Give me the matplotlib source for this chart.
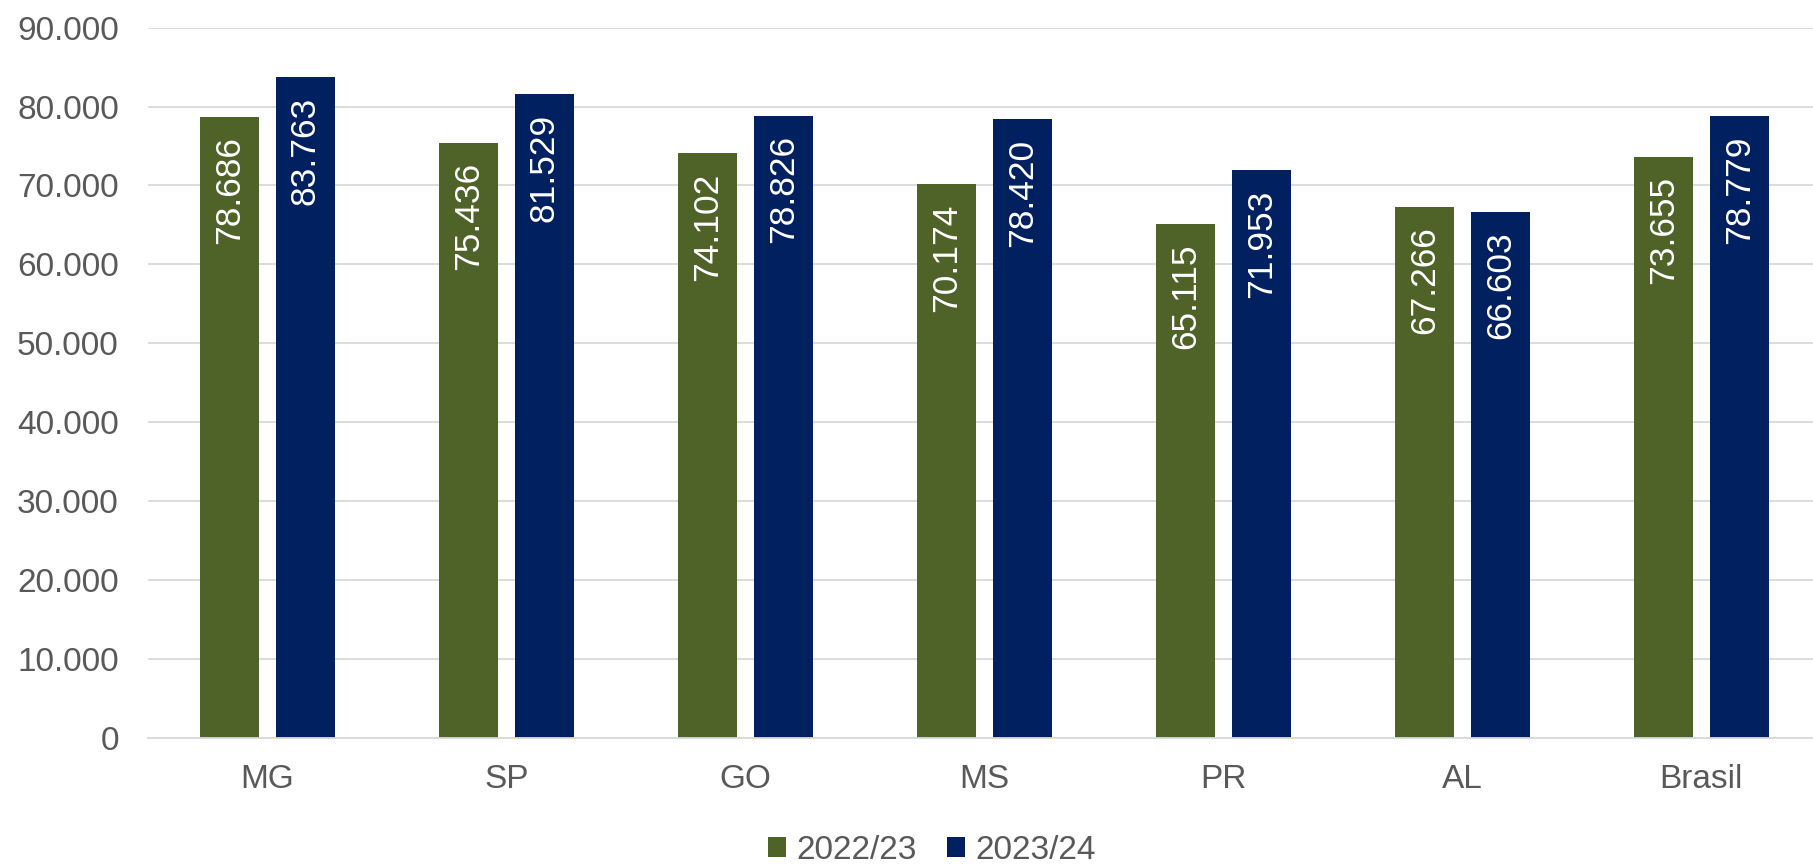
import matplotlib.pyplot as plt
import numpy as np

estados = ["MG", "SP", "GO", "MS", "PR", "AL", "Brasil"]
safra_2022_23 = [78686, 75436, 74102, 70174, 65115, 67266, 73655]
safra_2023_24 = [83763, 81529, 78826, 78420, 71953, 66603, 78779]
series = ["2022/23", "2023/24"]

verde = "#4F6228"
azul = "#002060"
cinza = "#595959"

plt.rcParams['font.family'] = ['Liberation Sans', 'DejaVu Sans']

def fmt(v):
    return f"{v:,.0f}".replace(",", ".")

fig = plt.figure(figsize=(18.13, 8.65), dpi=100)
ax = fig.add_axes([0.0816, 0.1473, 0.9184, 0.8207])

x = np.arange(len(estados))
w = 0.247
off = 0.159
b1 = ax.bar(x - off, safra_2022_23, w, color=verde, label=series[0])
b2 = ax.bar(x + off, safra_2023_24, w, color=azul, label=series[1])

# rótulos dentro das barras
for bars in (b1, b2):
    for r in bars:
        h = r.get_height()
        ax.annotate(fmt(h), (r.get_x() + r.get_width() / 2, h),
                    xytext=(0, -14), textcoords="offset points",
                    rotation=90, ha="center", va="top",
                    color="white", fontsize=25.5)

ax.set_ylim(0, 90000)
ax.set_xlim(-0.5, 6.467)
ax.set_yticks(np.arange(0, 90001, 10000))
ax.set_yticklabels([fmt(v) for v in np.arange(0, 90001, 10000)])
ax.set_xticks(x)
ax.set_xticklabels(estados)
ax.tick_params(axis="y", length=0, pad=21, labelsize=24, labelcolor=cinza)
ax.tick_params(axis="x", length=0, pad=19, labelsize=24, labelcolor=cinza)
ax.grid(axis="y", color="#D9D9D9", linewidth=1.3)
ax.set_axisbelow(True)
for s in ["left", "right", "top"]:
    ax.spines[s].set_visible(False)
ax.spines["bottom"].set_color("#D9D9D9")
ax.spines["bottom"].set_linewidth(1.3)

fig.legend(loc="center", bbox_to_anchor=(0.514, 0.017), ncol=2, frameon=False,
           fontsize=24, labelcolor=cinza, handlelength=0.55, handleheight=0.55,
           handletextpad=0.3, columnspacing=0.9, borderpad=0)

fig.savefig("out.png", dpi=100)
